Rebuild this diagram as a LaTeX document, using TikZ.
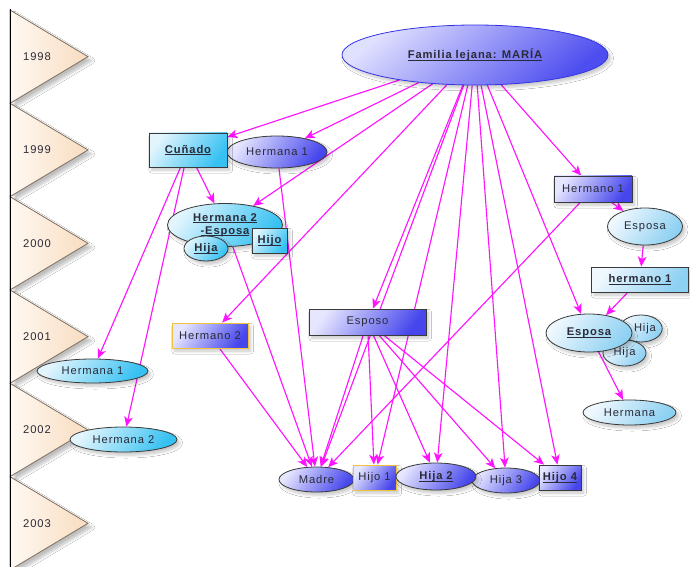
\documentclass[tikz,border=0pt]{standalone}
\usepackage{fontspec}
\setmainfont{Liberation Sans}[LetterSpace=8]
\usetikzlibrary{shapes.geometric,arrows.meta,shadows.blur,backgrounds}

\definecolor{link}{HTML}{FF14FF}
\definecolor{lavA}{HTML}{E6E6FF}
\definecolor{lavB}{HTML}{4646EC}
\definecolor{cyA}{HTML}{E2F5FD}
\definecolor{cyB}{HTML}{36C1F2}
\definecolor{paleA}{HTML}{F0F8FE}
\definecolor{paleB}{HTML}{8CD0F2}
\definecolor{frame}{HTML}{3A3A3A}
\definecolor{gold}{HTML}{F0C33C}
\definecolor{mariaA}{HTML}{E0E0FF}
\definecolor{mariaB}{HTML}{4E4EF0}
\definecolor{mariaLine}{HTML}{3434E6}
\definecolor{peachA}{HTML}{FFF9F2}
\definecolor{peachB}{HTML}{F8DCC0}
\definecolor{tri}{HTML}{7D6E60}
\definecolor{ink}{HTML}{2A2A38}

% bold text with an underline just below the baseline
\newcommand{\ulb}[1]{\textbf{\setbox0\hbox{#1}\rlap{\rule[-1.4pt]{\wd0}{0.55pt}}\box0}}

\tikzset{
  base/.style={draw=frame, line width=0.6pt, inner sep=0pt, text=ink, align=center,
    blur shadow={shadow xshift=2pt, shadow yshift=-2.4pt, shadow opacity=22, shadow blur steps=6}},
  sz/.style 2 args={minimum width=#1*0.75pt, minimum height=#2*0.75pt},
  oval/.style={base, shape=ellipse},
  box/.style={base, shape=rectangle},
  lav/.style={top color=lavA, bottom color=lavB, shading angle=55},
  cy/.style={top color=cyA, bottom color=cyB, shading angle=55},
  pale/.style={top color=paleA, bottom color=paleB, shading angle=55},
  goldline/.style={draw=gold},
  arr/.style={draw=link, line width=0.85pt, -{Stealth[length=7.5pt,width=6.5pt,inset=2pt]}},
  yearmark/.style={draw=tri, line width=0.6pt, left color=peachA, right color=peachB,
    blur shadow={shadow xshift=3pt, shadow yshift=-3pt, shadow opacity=25, shadow blur steps=8}},
  year/.style={inner sep=0pt, text=ink}
}

\begin{document}
\begin{tikzpicture}[x=0.75pt, y=-0.75pt, font=\fontsize{8.4}{9.9}\selectfont]
\useasboundingbox (0,0) rectangle (690,567);

% time line with one pennant per year
\foreach \yr [count=\i from 0] in {1998,1999,2000,2001,2002,2003}{
  \pgfmathsetmacro{\ytop}{10+93.33*\i}
  \path[yearmark] (10,\ytop) -- (88,\ytop+46.67) -- (10,\ytop+93.33) -- cycle;
  \node[year] (y\yr) at (37,\ytop+46.67) {\yr};
}
\draw[line width=0.9pt, black] (10.5,9.5) -- (10.5,567);

% root
\node[oval, sz={266}{60}, top color=mariaA, bottom color=mariaB, shading angle=40, draw=mariaLine]
  (maria) at (475,55) {\ulb{Familia lejana: MARÍA}};

% left family
\node[oval, lav, sz={100}{32}] (herm1t) at (277,152) {Hermana 1};
\node[box, cy, sz={78}{34}] (cunado) at (188,150) {\ulb{Cuñado}};
\node[oval, cy, sz={115}{43}] (h2esp) at (225,225) {\ulb{Hermana 2}\\[0pt]\ulb{-Esposa}};
\node[oval, cy, sz={44}{25}] (hijaA) at (206,248.5) {\ulb{Hija}};
\node[box, cy, sz={35}{25}] (hijoA) at (269.5,240.5) {\ulb{Hijo}};
\node[oval, cy, sz={111}{24}] (herm1L) at (92.5,371) {Hermana 1};
\node[oval, cy, sz={107}{25}] (herm2L) at (123.5,439.5) {Hermana 2};
\node[box, lav, goldline, sz={76}{25}] (hno2) at (210,335.5) {Hermano 2};

% centre
\node[box, lav, sz={117}{26}] (esposo) at (367.5,322) {Esposo};
\node[oval, lav, sz={75}{25}] (madre) at (316.5,479.5) {Madre};
\node[box, lav, goldline, sz={43}{25}] (hijo1) at (374.5,477.5) {Hijo 1};
\node[oval, lav, sz={68}{25}] (hija3) at (506,480.5) {Hija 3};
\node[oval, lav, sz={80}{27}] (hija2) at (436,476.5) {\ulb{Hija 2}};
\node[box, lav, sz={42}{25}] (hijo4) at (560,477.5) {\ulb{Hijo 4}};

% right family
\node[box, lav, sz={78}{26}] (hno1) at (593,189) {Hermano 1};
\node[oval, pale, sz={75}{37}] (esp1) at (645,226.5) {Esposa};
\node[box, pale, sz={97}{25}] (hno1b) at (640,279.5) {\ulb{hermano 1}};
\node[oval, pale, sz={40}{27}] (hijaR1) at (641,328.5) {\hspace*{6pt}Hija};
\node[oval, pale, sz={43}{26}] (hijaR2) at (624.5,353) {Hija};
\node[oval, pale, sz={86}{38}] (esp2) at (589,333) {\ulb{Esposa}};
\node[oval, pale, sz={93}{25}] (hna) at (629.5,412.5) {Hermana};

% white paper, then the connectors, all beneath the nodes
\begin{pgfonlayer}{background}
  \fill[white] (0,0) rectangle (690,567);
  \foreach \t in {cunado,herm1t,h2esp,hno2,esposo,madre,hijo1,hija2,hija3,hijo4,hno1,esp2}
    \draw[arr] (maria) -- (\t);
  \foreach \t in {h2esp,herm1L,herm2L}
    \draw[arr] (cunado) -- (\t);
  \foreach \t in {madre,hijo1,hija2,hija3,hijo4}
    \draw[arr] (esposo) -- (\t);
  \draw[arr] (herm1t) -- (madre);
  \draw[arr] (h2esp) -- (madre);
  \draw[arr] (hno2) -- (madre);
  \draw[arr] (hno1) -- (madre);
  \draw[arr] (hno1) -- (esp1);
  \draw[arr] (esp1) -- (hno1b);
  \draw[arr] (hno1b) -- (esp2);
  \draw[arr] (esp2) -- (hna);
\end{pgfonlayer}
\end{tikzpicture}
\end{document}
